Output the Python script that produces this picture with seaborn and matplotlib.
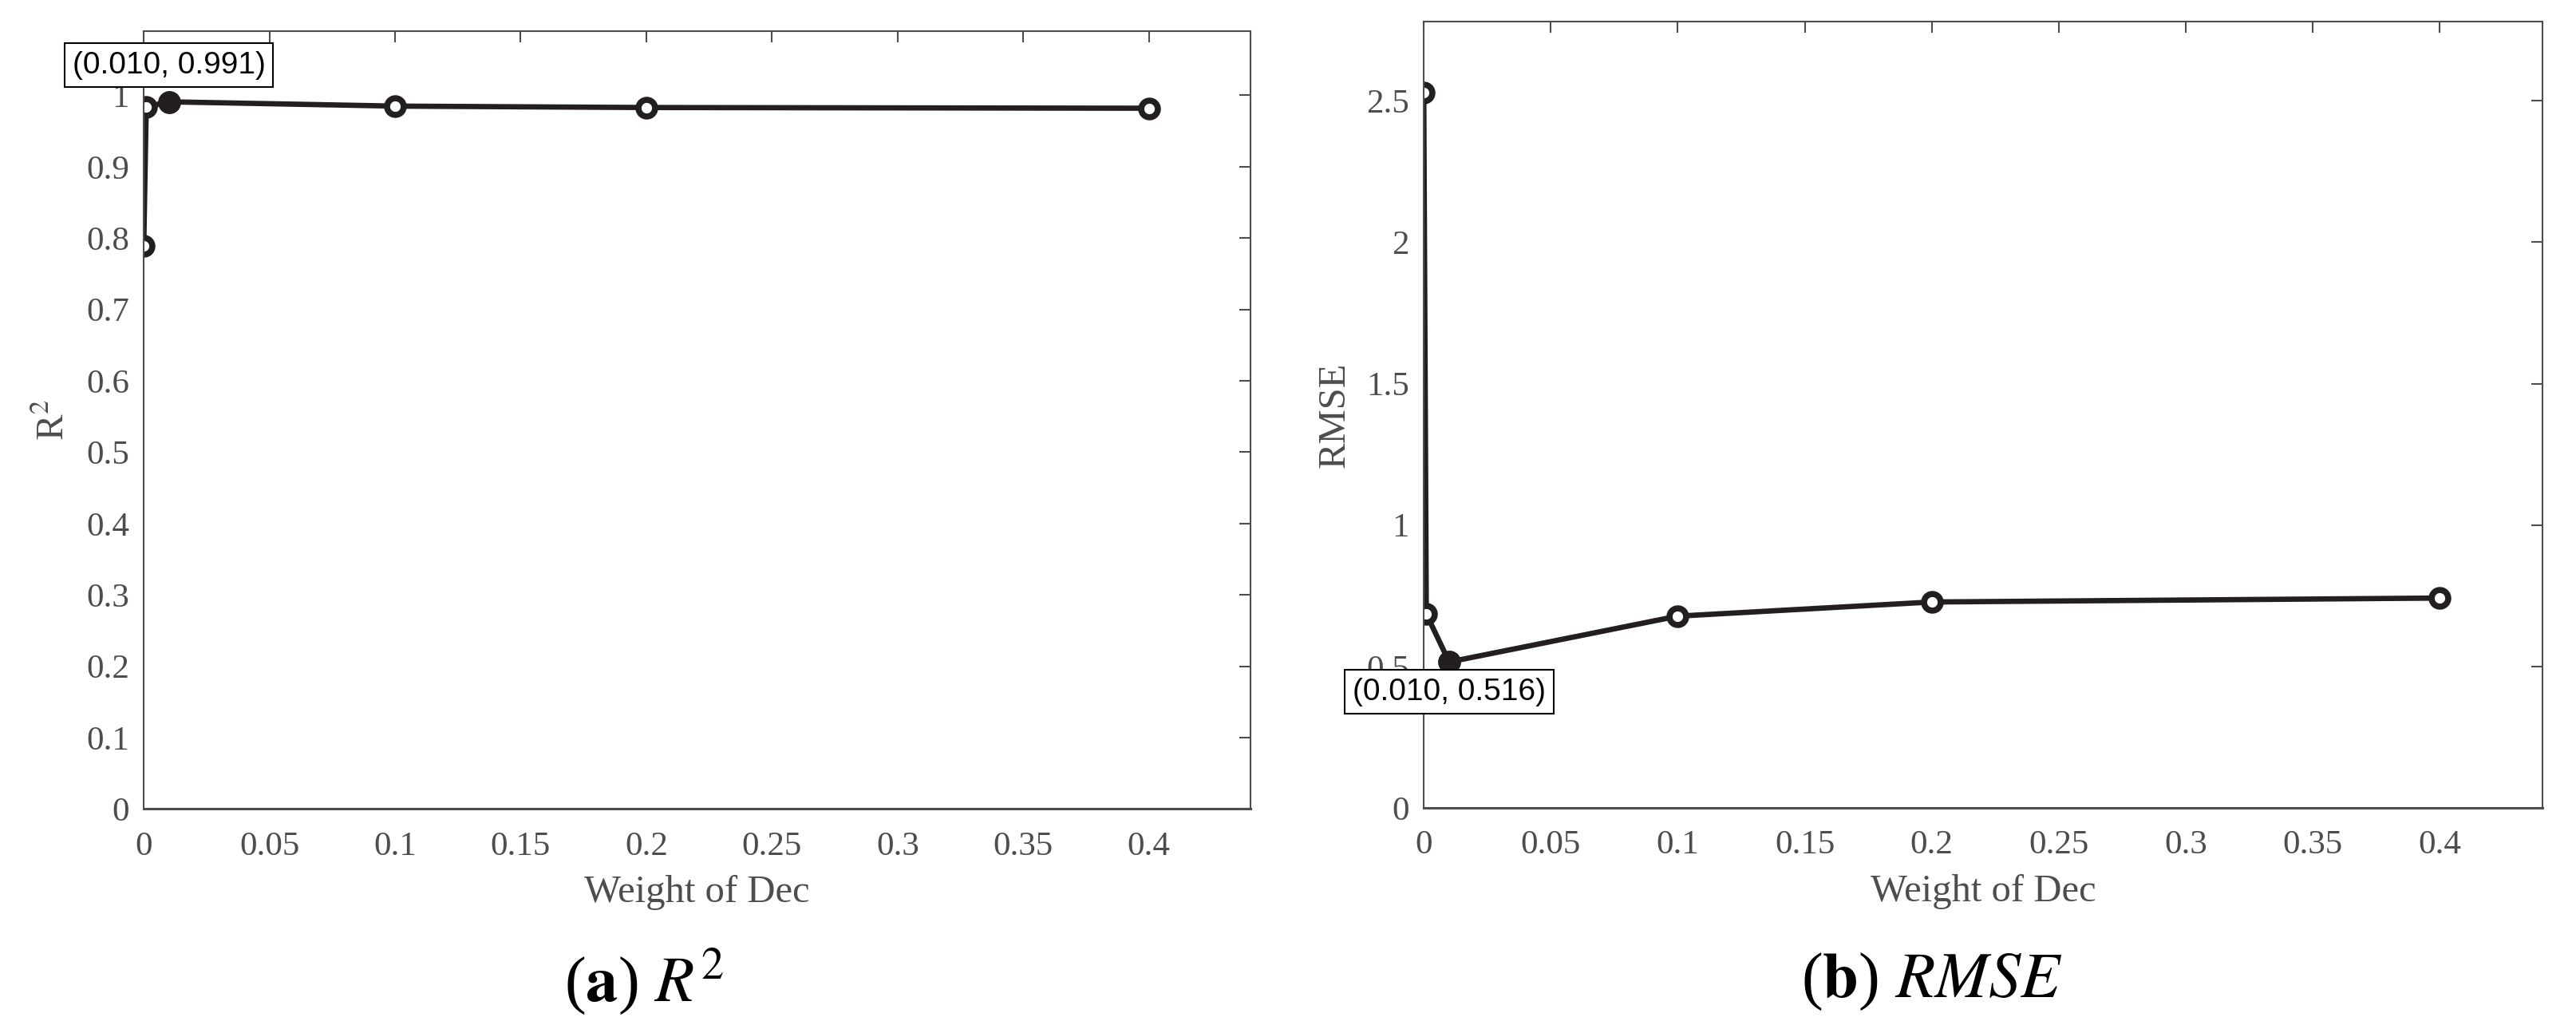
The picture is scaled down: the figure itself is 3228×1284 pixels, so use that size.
import pandas as pd
import matplotlib
matplotlib.use('Agg')
import matplotlib.pyplot as plt
from matplotlib.ticker import FuncFormatter, MultipleLocator
import seaborn as sns

# values
weights = [0, 0.001, 0.01, 0.1, 0.2, 0.4]
r2Values = [0.789, 0.984, 0.991, 0.985, 0.983, 0.982]
rmseValues = [2.528, 0.686, 0.516, 0.678, 0.728, 0.742]

xLabel = 'Weight of Dec'
yLabels = [r'R$^2$', 'RMSE']
captions = [r'($\mathbf{a}$) $R^2$', r'($\mathbf{b}$) $RMSE$']
xTicks = [0, 0.05, 0.1, 0.15, 0.2, 0.25, 0.3, 0.35, 0.4]

lineColor = '#231f20'
axisColor = '#4d4d4d'

sns.set_theme(style='white')
plt.rcParams['font.family'] = ['Liberation Serif', 'DejaVu Serif']
plt.rcParams['mathtext.fontset'] = 'stix'

data = pd.DataFrame({'weight': weights, 'r2': r2Values, 'rmse': rmseValues})


def formatTick(value, pos):
    return '%g' % round(value, 4)


def drawPanel(ax, yCol, yLabel, yMax, yStep, bestIdx, boxOffset):
    sns.lineplot(data=data, x='weight', y=yCol, ax=ax, color=lineColor, lw=4.8,
                 marker='o', ms=15, mfc='white', mec=lineColor, mew=5.5)
    best = data.loc[[bestIdx]]
    sns.scatterplot(data=best, x='weight', y=yCol, ax=ax, s=15 ** 2, color=lineColor,
                    edgecolor=lineColor, linewidth=5.5, zorder=4, legend=False)
    bx = best['weight'].iloc[0]
    by = best[yCol].iloc[0]
    ax.annotate('(%.3f, %.3f)' % (bx, by), xy=(bx, by), xytext=(0, boxOffset),
                textcoords='offset points', ha='center', va='center',
                fontsize=28, family='Liberation Sans', color='black',
                bbox=dict(boxstyle='square,pad=0.25', fc='white', ec='black', lw=1.5),
                annotation_clip=False, zorder=10)

    ax.set_xlim(0, 0.4405)
    ax.set_ylim(0, yMax)
    ax.set_xticks(xTicks)
    ax.yaxis.set_major_locator(MultipleLocator(yStep))
    ax.xaxis.set_major_formatter(FuncFormatter(formatTick))
    ax.yaxis.set_major_formatter(FuncFormatter(formatTick))
    ax.tick_params(direction='in', top=True, right=True, length=10, width=1.5,
                   colors=axisColor, labelsize=31)
    ax.tick_params(axis='x', pad=20)
    ax.tick_params(axis='y', pad=13)
    for spine in ax.spines.values():
        spine.set_color(axisColor)
        spine.set_linewidth(1.5)
    ax.spines['bottom'].set_linewidth(2.2)
    ax.set_xlabel(xLabel, fontsize=35, color=axisColor, labelpad=12)
    ax.set_ylabel(yLabel, fontsize=35, color=axisColor, labelpad=13)


fig = plt.figure(figsize=(32.28, 12.84), dpi=100)
axLeft = fig.add_axes([0.0558, 0.2107, 0.4297, 0.7589])
axRight = fig.add_axes([0.5527, 0.2118, 0.4343, 0.7671])

drawPanel(axLeft, 'r2', yLabels[0], 1.09, 0.1, data['r2'].idxmax(), 33)
drawPanel(axRight, 'rmse', yLabels[1], 2.78, 0.5, data['rmse'].idxmin(), -27)

# captions sit centred on each half of the figure
for xPos, caption in zip([0.25, 0.75], captions):
    fig.text(xPos, 0.042, caption, ha='center', va='center',
             fontsize=58, color='black')

fig.savefig('out.png', dpi=100)
